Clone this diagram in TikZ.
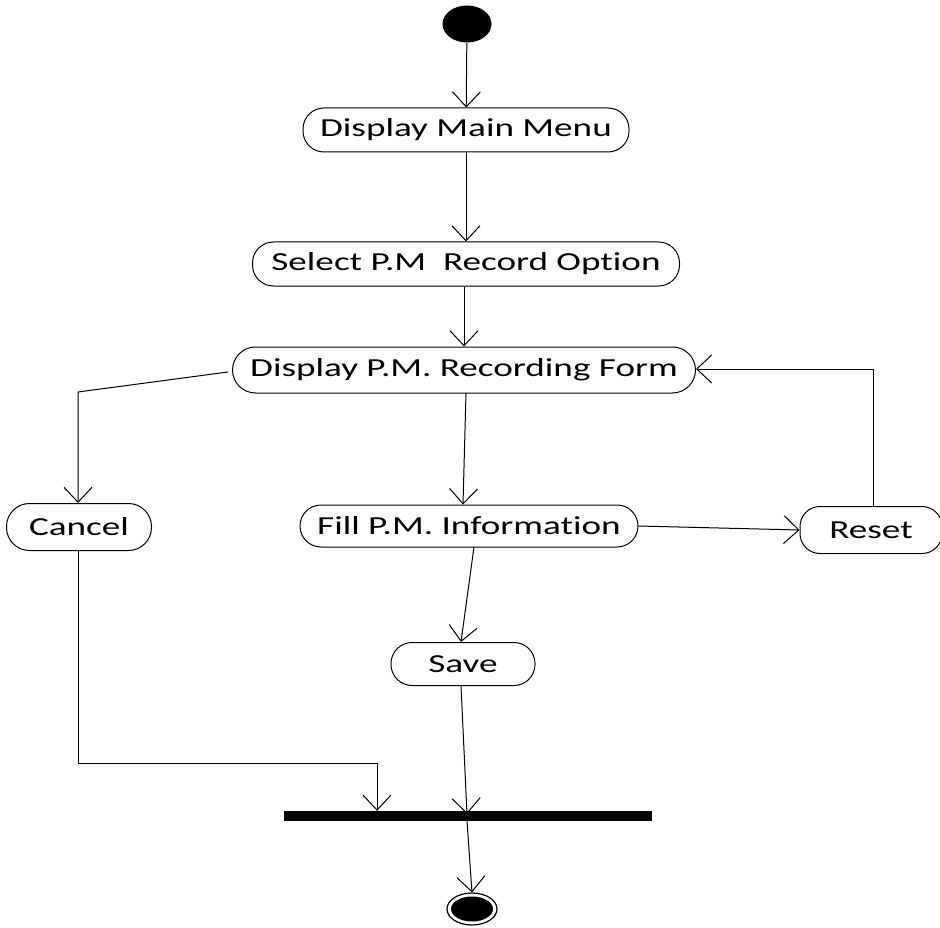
\documentclass[tikz,border=0pt]{standalone}
\usepackage{fontspec}
\setmainfont{Carlito}[FakeStretch=1.43, Ligatures=NoCommon]
\usetikzlibrary{arrows.meta,shapes.geometric}
\begin{document}
\begin{tikzpicture}[x=1pt,y=-1pt,
  every node/.style={font=\fontsize{26}{30}\selectfont},
  act/.style={draw, line width=1pt, rounded corners=21pt, inner sep=0pt, minimum height=44pt},
  flow/.style={draw, line width=1pt, -{Straight Barb[length=15pt,width=28pt,line width=1pt]}}
]
\useasboundingbox (0,0) rectangle (940,928);

% initial state
\node[ellipse, fill=black, minimum width=49pt, minimum height=37pt, inner sep=0pt] (start) at (467,24) {};

% activities
\node[act, minimum width=326pt] (menu) at (466,130) {Display Main Menu};
\node[act, minimum width=427pt] (select) at (466,264) {Select P.M\ \ Record Option};
\node[act, minimum width=463pt, minimum height=46pt, rounded corners=23pt] (form) at (464,370) {Display P.M. Recording Form};
\node[act, minimum width=145pt, minimum height=47pt, rounded corners=23pt] (cancel) at (79,527) {Cancel};
\node[act, minimum width=338pt, minimum height=42pt] (fill) at (469,526) {Fill P.M. Information};
\node[act, minimum width=142pt, minimum height=47pt, rounded corners=20pt] (reset) at (871,530) {Reset};
\node[act, minimum width=144pt, minimum height=43pt] (save) at (463,664) {Save};

% join bar
\node[fill=black, minimum width=368pt, minimum height=10pt, inner sep=0pt] (bar) at (468,816) {};

% final state
\node[ellipse, draw, line width=1.2pt, minimum width=50pt, minimum height=32pt, inner sep=0pt] (stop) at (472,909) {};
\node[ellipse, fill=black, minimum width=42pt, minimum height=25pt, inner sep=0pt] (stopin) at (472,909) {};

% control flow
\coordinate (f1) at (78,392);
\coordinate (r1) at (873,369);
\coordinate (c1) at (78,763);
\coordinate (c2) at (377,763);
\coordinate (s1) at (467,814);
\coordinate (s2) at (467,821);

\draw[flow] (start) -- (menu);
\draw[flow] (menu) -- (select);
\draw[flow] (select.south -| 464,0) -- (form);
\draw[flow] (form.west) ++(-4,2) -- (f1) -- (cancel.north -| f1);
\draw[flow] (466,393) -- (fill.north -| 463,0);
\draw[flow] (fill.east) -- (reset.west);
\draw[flow] (reset.north -| r1) -- (r1) -- (form.east |- r1);
\draw[flow] (474,547) -- (save.north -| 461,0);
\draw[flow] (cancel.south -| c1) -- (c1) -- (c2) -- (c2 |- bar.north);
\draw[flow] (save.south -| 461,0) -- (s1);
\draw[flow] (s2) -- (stop.north);
\end{tikzpicture}
\end{document}
